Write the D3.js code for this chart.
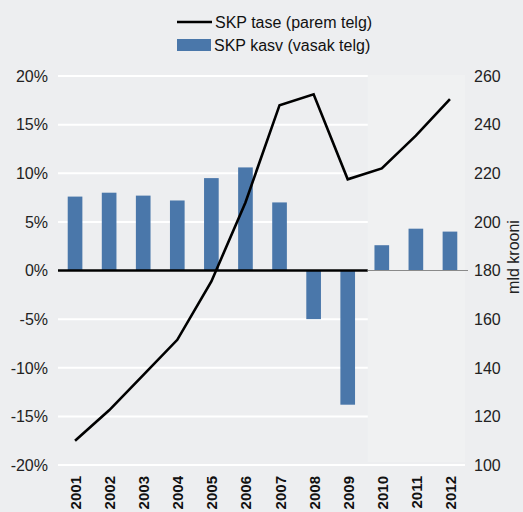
<!DOCTYPE html>
<html>
<head>
<meta charset="utf-8">
<script src="https://cdn.jsdelivr.net/npm/d3@7"></script>
<style>
  body { margin: 0; background: #edeef0; }
  svg { display: block; font-family: "Liberation Sans", Arial, sans-serif; }
</style>
</head>
<body>
<svg width="523" height="512"></svg>
<script>
// data
const years = ["2001","2002","2003","2004","2005","2006","2007","2008","2009","2010","2011","2012"];
const growth = [7.6, 8.0, 7.7, 7.2, 9.5, 10.6, 7.0, -5.0, -13.8, 2.6, 4.3, 4.0];       // SKP kasv, %
const level = [110, 122.5, 137, 151.5, 175.5, 208, 248, 252.5, 217.5, 222, 235.5, 250.5]; // SKP tase, mld krooni
const leftTicks = [-20, -15, -10, -5, 0, 5, 10, 15, 20];
const rightTicks = [100, 120, 140, 160, 180, 200, 220, 240, 260];
const forecastFrom = "2010";

const svg = d3.select("svg");
const plotLeft = 58, plotRight = 467, plotTop = 76, plotBottom = 465;

const x = d3.scaleBand().domain(years).range([plotLeft, plotRight]).paddingInner(0.57).paddingOuter(0.285);
const xStep = d3.scaleBand().domain(years).range([plotLeft, plotRight]);
const yL = d3.scaleLinear().domain([-20, 20]).range([plotBottom, plotTop]);
const yR = d3.scaleLinear().domain([100, 260]).range([plotBottom, plotTop]);

// gridlines
svg.append("g").selectAll("line")
    .data(leftTicks)
    .join("line")
    .attr("x1", plotLeft).attr("x2", plotRight - 2)
    .attr("y1", d => yL(d)).attr("y2", d => yL(d))
    .style("stroke", "#fff")
    .style("stroke-width", 2);

// forecast shading
const fx = xStep(forecastFrom) + 3;
svg.append("rect")
    .attr("x", fx).attr("y", plotTop - 1)
    .attr("width", plotRight - 2 - fx).attr("height", plotBottom - plotTop - 2)
    .style("fill", "#f0f1f2");

// bars
svg.append("g").selectAll("rect")
    .data(years)
    .join("rect")
    .attr("x", d => x(d))
    .attr("width", x.bandwidth())
    .attr("y", (d, i) => yL(Math.max(0, growth[i])))
    .attr("height", (d, i) => Math.abs(yL(growth[i]) - yL(0)))
    .style("fill", "#4a77aa");

// zero line
svg.append("line")
    .attr("x1", plotLeft).attr("x2", fx)
    .attr("y1", yL(0)).attr("y2", yL(0))
    .style("stroke", "#000").style("stroke-width", 2.5);
svg.append("line")
    .attr("x1", fx).attr("x2", plotRight + 1)
    .attr("y1", yL(0)).attr("y2", yL(0))
    .style("stroke", "#8a8a8a").style("stroke-width", 1.2);

// line series
const line = d3.line()
    .x((d, i) => x(years[i]) + x.bandwidth() / 2)
    .y(d => yR(d));
svg.append("path")
    .datum(level)
    .attr("d", line)
    .style("fill", "none")
    .style("stroke", "#000")
    .style("stroke-width", 2.6);

// left axis labels
svg.append("g").selectAll("text")
    .data(leftTicks)
    .join("text")
    .attr("x", 48).attr("y", d => yL(d))
    .attr("dy", "0.36em")
    .attr("text-anchor", "end")
    .style("font-size", "16px").style("fill", "#222")
    .text(d => d + "%");

// right axis labels
svg.append("g").selectAll("text")
    .data(rightTicks)
    .join("text")
    .attr("x", 474).attr("y", d => yR(d))
    .attr("dy", "0.36em")
    .style("font-size", "16px").style("fill", "#222")
    .text(d => d);

svg.append("text")
    .attr("transform", "translate(519,257) rotate(-90)")
    .attr("text-anchor", "middle")
    .style("font-size", "16px").style("fill", "#222")
    .text("mld krooni");

// x labels
svg.append("g").selectAll("text")
    .data(years)
    .join("text")
    .attr("transform", d => `translate(${x(d) + x.bandwidth() / 2 + 6},476) rotate(-90)`)
    .attr("text-anchor", "end")
    .style("font-size", "15px").style("font-weight", "bold").style("fill", "#111")
    .text(d => d);

// legend
svg.append("line")
    .attr("x1", 177).attr("x2", 212).attr("y1", 22).attr("y2", 22)
    .style("stroke", "#000").style("stroke-width", 2.6);
svg.append("text")
    .attr("x", 215).attr("y", 22).attr("dy", "0.36em")
    .style("font-size", "16px").style("fill", "#111")
    .text("SKP tase (parem telg)");
svg.append("rect")
    .attr("x", 177).attr("y", 39).attr("width", 34).attr("height", 12)
    .style("fill", "#4a77aa");
svg.append("text")
    .attr("x", 214).attr("y", 45).attr("dy", "0.36em")
    .style("font-size", "16px").style("fill", "#111")
    .text("SKP kasv (vasak telg)");
</script>
</body>
</html>
